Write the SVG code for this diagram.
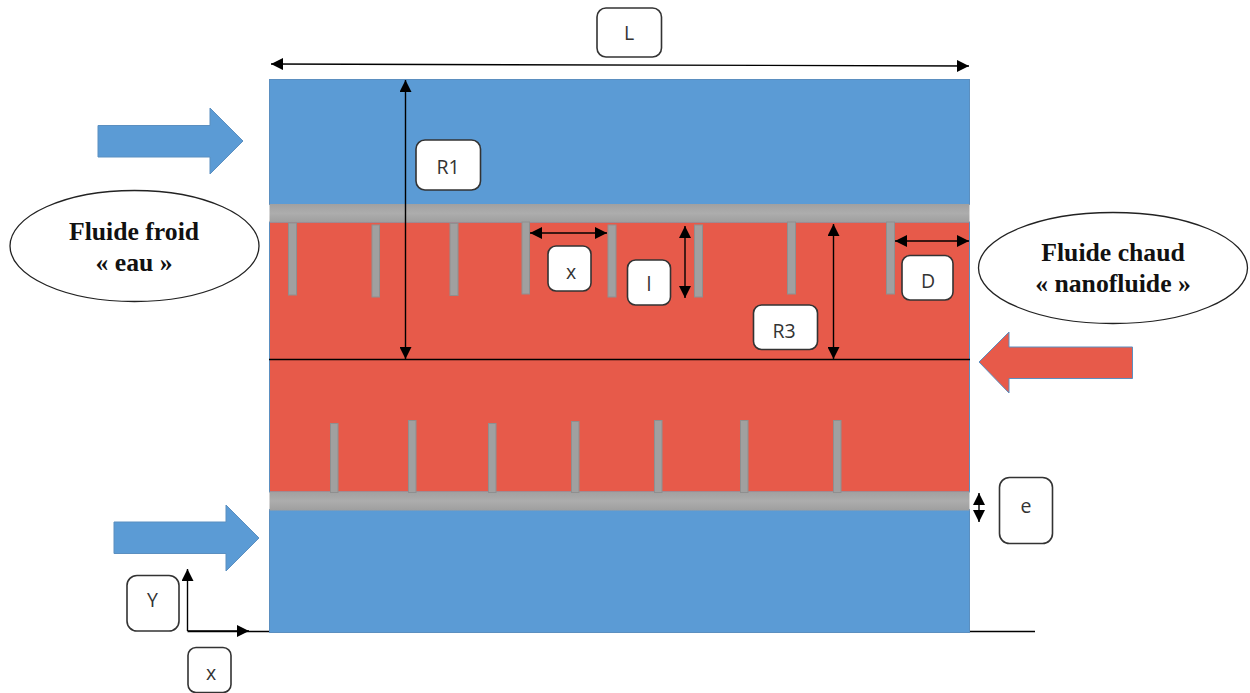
<svg xmlns="http://www.w3.org/2000/svg" width="1250" height="693" viewBox="0 0 1250 693">
<style>
.fin{fill:#a0a0a0;stroke:#8f8f8f;stroke-width:1}
.cold{fill:#5b9bd5;stroke:#5b8fc0;stroke-width:1}
.hot{fill:#e75a4a;stroke:#5b8fc0;stroke-width:1}
.box{fill:#fff;stroke:#333;stroke-width:1.6}
.lbl{font-family:"Open Sans","Liberation Sans",sans-serif;font-size:19.5px;fill:#333;text-anchor:middle}
.oval{fill:#fff;stroke:#222;stroke-width:1.3}
.ser{font-family:"Liberation Serif",serif;font-weight:bold;font-size:25.700px;fill:#111;text-anchor:middle}
.ln{stroke:#000;stroke-width:1.4;fill:none}
.dim{stroke:#000;stroke-width:1.4;fill:none;marker-start:url(#a);marker-end:url(#a)}
.one{stroke:#000;stroke-width:1.4;fill:none;marker-end:url(#a)}
</style>
<defs>
<marker id="a" markerUnits="userSpaceOnUse" markerWidth="13" markerHeight="12" refX="12" refY="6" orient="auto-start-reverse"><path d="M0 0L12 6L0 12Z" fill="#000"/></marker>
<linearGradient id="g" x1="0" y1="0" x2="0" y2="1"><stop offset="0" stop-color="#a0a0a0"/><stop offset=".5" stop-color="#adadad"/><stop offset="1" stop-color="#9e9e9e"/></linearGradient>
</defs>
<g id="cold-top"><rect class="cold" x="269.500" y="79.500" width="700" height="125"/></g>
<g id="cold-bottom"><rect class="cold" x="269.500" y="509.500" width="700" height="123"/></g>
<g id="hot"><rect class="hot" x="269.500" y="222" width="700" height="270"/></g>
<g id="wall-top"><rect x="269.500" y="204" width="700" height="18.500" fill="url(#g)"/></g>
<g id="wall-bottom"><rect x="269.500" y="491.500" width="700" height="19" fill="url(#g)"/></g>
<g id="fins-top">
<rect class="fin" x="288.500" y="223" width="8" height="72"/>
<rect class="fin" x="372" y="225" width="7.500" height="72"/>
<rect class="fin" x="450" y="223.500" width="8" height="72"/>
<rect class="fin" x="522" y="222" width="7.500" height="72"/>
<rect class="fin" x="608" y="225" width="8" height="72"/>
<rect class="fin" x="694.500" y="225" width="8" height="72"/>
<rect class="fin" x="787.500" y="222" width="8" height="72"/>
<rect class="fin" x="886.500" y="222" width="8" height="72"/>
</g>
<g id="fins-bottom">
<rect class="fin" x="330.500" y="423.500" width="7.500" height="69"/>
<rect class="fin" x="408.500" y="420.500" width="7.500" height="72"/>
<rect class="fin" x="488.500" y="423.500" width="7.500" height="69"/>
<rect class="fin" x="571.500" y="421.500" width="7.500" height="71"/>
<rect class="fin" x="654.500" y="420.500" width="7.500" height="72"/>
<rect class="fin" x="740.500" y="420.500" width="7.500" height="72"/>
<rect class="fin" x="833.500" y="420.500" width="7.500" height="72"/>
</g>
<g id="connectors">
<path class="ln" d="M269 359.500H970"/>
<path class="ln" d="M970 631.500H1035"/>
<path class="ln" d="M187.500 631.500H269"/>
<path class="dim" d="M271 64L969 66"/>
<path class="dim" d="M405.500 80V359"/>
<path class="dim" d="M530 233H607"/>
<path class="dim" d="M685 226V298"/>
<path class="dim" d="M833.500 224V359"/>
<path class="dim" d="M895 241H969"/>
<path class="dim" d="M979 493V522"/>
<path class="one" d="M187.500 631V569"/>
<path class="one" d="M188 631H249"/>
</g>
<g id="arrow-cold-top"><path class="cold" d="M98 125.500H210V108L243 141L210 174V157H98Z"/></g>
<g id="arrow-cold-bottom"><path class="cold" d="M114 522H226V505L259 538L226 571V553.500H114Z"/></g>
<g id="arrow-hot"><path class="hot" d="M1132.500 347V378.500H1009V393L979 362L1009 332V347Z"/></g>
<g id="fluide-froid"><ellipse class="oval" cx="134.500" cy="246" rx="124.500" ry="55.500"/>
<text class="ser" x="134" y="240">Fluide froid</text><text class="ser" x="134" y="271">« eau »</text></g>
<g id="fluide-chaud"><ellipse class="oval" cx="1113" cy="268" rx="134.500" ry="55.500"/>
<text class="ser" x="1113" y="261">Fluide chaud</text><text class="ser" x="1113" y="292">« nanofluide »</text></g>
<g id="label-L"><rect class="box" x="597" y="8" width="64.500" height="49" rx="9"/><text class="lbl" x="629" y="40">L</text></g>
<g id="label-R1"><rect class="box" x="416" y="140" width="64.500" height="50" rx="9"/><text class="lbl" x="448" y="174">R1</text></g>
<g id="label-x1"><rect class="box" x="548" y="246" width="43" height="45" rx="8"/><text class="lbl" x="571" y="279">x</text></g>
<g id="label-l"><rect class="box" x="627.500" y="260" width="43" height="45" rx="8"/><text class="lbl" x="649" y="291">l</text></g>
<g id="label-D"><rect class="box" x="902" y="255.500" width="51" height="44.500" rx="8"/><text class="lbl" x="928" y="288">D</text></g>
<g id="label-R3"><rect class="box" x="753.500" y="305" width="64" height="44.500" rx="8"/><text class="lbl" x="784" y="338">R3</text></g>
<g id="label-e"><rect class="box" x="999.500" y="477.500" width="53" height="66" rx="10"/><text class="lbl" x="1026" y="513">e</text></g>
<g id="label-Y"><rect class="box" x="127" y="575.500" width="52" height="55.500" rx="10"/><text class="lbl" x="152.500" y="607">Y</text></g>
<g id="label-x2"><rect class="box" x="188" y="647.500" width="43" height="45" rx="8"/><text class="lbl" x="211" y="680">x</text></g>
</svg>
